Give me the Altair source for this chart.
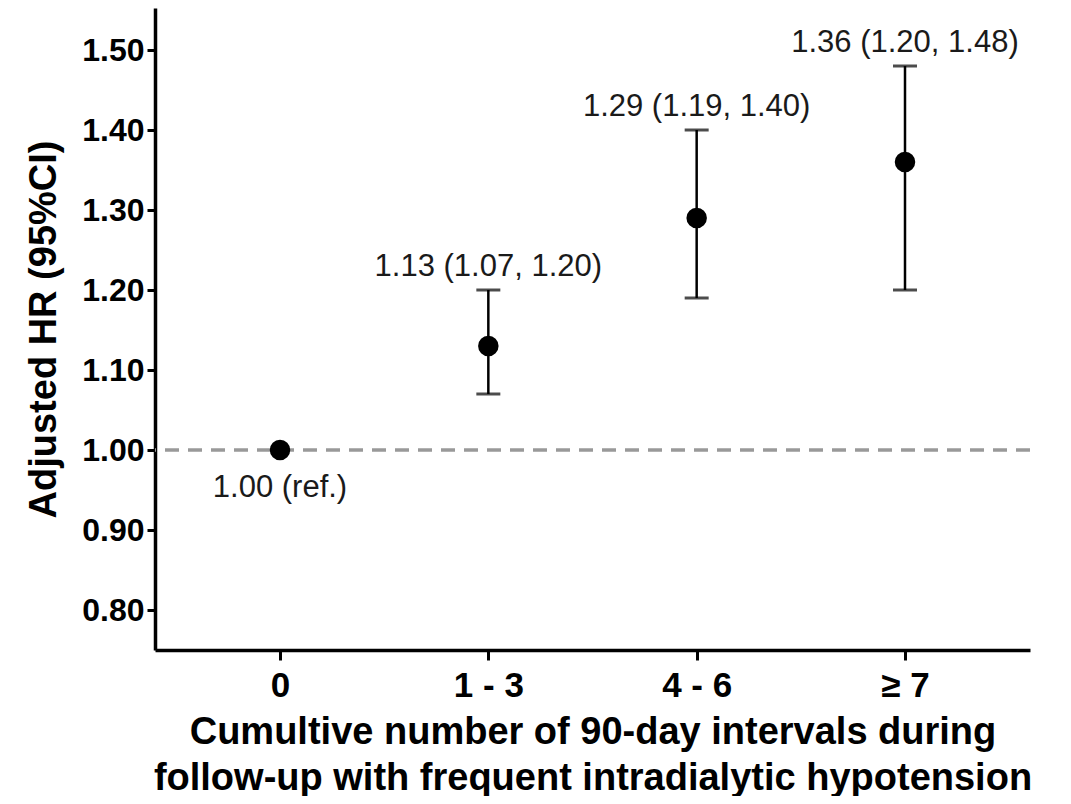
import altair as alt
import pandas as pd

cats = ["0", "1 - 3", "4 - 6", "≥ 7"]
hr = [1.00, 1.13, 1.29, 1.36]
lo = [1.00, 1.07, 1.19, 1.20]
hi = [1.00, 1.20, 1.40, 1.48]
labels = ["1.00 (ref.)", "1.13 (1.07, 1.20)", "1.29 (1.19, 1.40)", "1.36 (1.20, 1.48)"]
y_ticks = [0.80, 0.90, 1.00, 1.10, 1.20, 1.30, 1.40, 1.50]
ref_value = [1.00]

df = pd.DataFrame({"cat": cats, "hr": hr, "lo": lo, "hi": hi, "label": labels})
df_ci = df[df["lo"] < df["hi"]]
df_ref = df[df["lo"] >= df["hi"]]

FONT = "Liberation Sans"

x = alt.X("cat:N", sort=cats,
          scale=alt.Scale(type="point", padding=0.6),
          axis=alt.Axis(title=["Cumultive number of 90-day intervals during",
                               "follow-up with frequent intradialytic hypotension"],
                        labelAngle=0, labelFontSize=35, labelFontWeight="bold",
                        labelColor="black", labelPadding=8,
                        tickSize=10, tickWidth=3, tickColor="black",
                        domainWidth=3.5, domainColor="black",
                        titleFontSize=38, titleFontWeight="bold", titleColor="black",
                        titleLineHeight=46, titlePadding=10, grid=False))

yscale = alt.Scale(domain=[0.75, 1.5525], nice=False, zero=False)
yaxis = alt.Axis(title="Adjusted HR (95%CI)", values=y_ticks, format=".2f",
                 labelFontSize=32, labelFontWeight="bold", labelColor="black",
                 labelPadding=3, tickSize=8, tickWidth=3, tickColor="black",
                 domainWidth=3.5, domainColor="black",
                 titleFontSize=38, titleFontWeight="bold", titleColor="black",
                 titlePadding=18, grid=False)

base = alt.Chart(df)

ref_line = alt.Chart(pd.DataFrame({"v": ref_value})).mark_rule(
    color="#999999", strokeWidth=3.5, strokeDash=[14, 9]
).encode(y=alt.Y("v:Q", scale=yscale, axis=yaxis))

bars = alt.Chart(df_ci).mark_rule(color="black", strokeWidth=2.5).encode(
    x=x, y=alt.Y("lo:Q", scale=yscale), y2="hi:Q")

cap_hi = alt.Chart(df_ci).mark_tick(color="black", thickness=3, size=24).encode(
    x=x, y=alt.Y("hi:Q", scale=yscale))
cap_lo = alt.Chart(df_ci).mark_tick(color="black", thickness=3, size=24).encode(
    x=x, y=alt.Y("lo:Q", scale=yscale))

points = base.mark_point(filled=True, color="black", size=420, opacity=1).encode(
    x=x, y=alt.Y("hr:Q", scale=yscale))

text_ci = alt.Chart(df_ci).mark_text(
    font=FONT, fontSize=31, color="#1a1a1a", baseline="alphabetic", dy=-14
).encode(x=x, y=alt.Y("hi:Q", scale=yscale), text="label:N")

text_ref = alt.Chart(df_ref).mark_text(
    font=FONT, fontSize=31, color="#1a1a1a", baseline="middle", dy=38
).encode(x=x, y=alt.Y("hr:Q", scale=yscale), text="label:N")

chart = alt.layer(ref_line, bars, cap_hi, cap_lo, points, text_ci, text_ref).properties(
    width=875, height=642,
    autosize=alt.AutoSizeParams(type="none"),
    padding={"left": 147, "top": 0, "right": 33, "bottom": 146},
    background="white",
).configure(font=FONT).configure_view(strokeWidth=0)

chart.save("out.html", embed_options={"renderer": "svg", "actions": False})
